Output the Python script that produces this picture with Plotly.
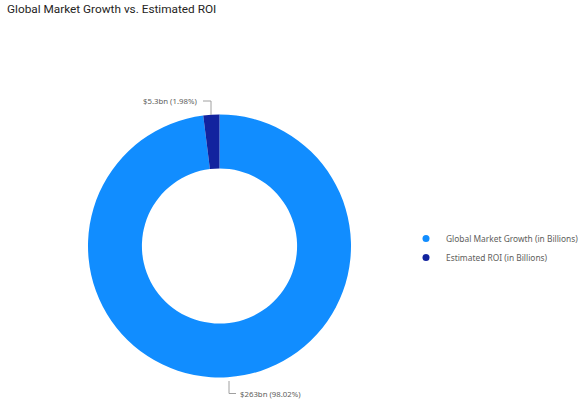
import plotly.graph_objects as go

labels = ["Global Market Growth (in Billions)", "Estimated ROI (in Billions)"]
values = [263, 5.3]
text_labels = ["$263bn (98.02%)", "$5.3bn (1.98%)"]
colors = ["#118DFF", "#12239E"]

W, H = 588, 410


def px(x):
    return x / W


def py(y):
    return 1 - y / H


fig = go.Figure()

fig.add_trace(
    go.Pie(
        labels=labels,
        values=values,
        hole=0.59,
        sort=False,
        direction="clockwise",
        rotation=0,
        marker=dict(colors=colors),
        textinfo="none",
        showlegend=False,
        domain=dict(x=[px(88), px(351)], y=[py(377.5), py(114.5)]),
    )
)

# legend entries with round markers, like the original
for name, c in zip(labels, colors):
    fig.add_trace(
        go.Scatter(
            x=[None], y=[None],
            mode="markers",
            marker=dict(color=c, size=7, symbol="circle"),
            name=name,
        )
    )

fig.update_xaxes(visible=False)
fig.update_yaxes(visible=False)

gray = "#605E5C"

# leader lines
for (x0, y0, x1, y1) in [
    (203, 101, 211, 101), (211, 101, 211, 115),
    (229, 381, 229, 393.5), (229, 393.5, 236, 393.5),
]:
    fig.add_shape(
        type="line", xref="paper", yref="paper",
        x0=px(x0), y0=py(y0), x1=px(x1), y1=py(y1),
        line=dict(color="#A0A0A0", width=1),
    )

fig.add_annotation(
    x=px(199), y=py(101), xref="paper", yref="paper",
    text=text_labels[1], showarrow=False,
    xanchor="right", yanchor="middle",
    font=dict(size=7.8, color=gray, family="Noto Sans"),
)
fig.add_annotation(
    x=px(238), y=py(394), xref="paper", yref="paper",
    text=text_labels[0], showarrow=False,
    xanchor="left", yanchor="middle",
    font=dict(size=7.8, color=gray, family="Noto Sans"),
)

fig.update_layout(
    width=W,
    height=H,
    margin=dict(l=0, r=0, t=0, b=0, autoexpand=False),
    paper_bgcolor="white",
    plot_bgcolor="white",
    title=dict(
        text="Global Market Growth vs. Estimated ROI",
        x=px(7), xanchor="left",
        y=py(9), yanchor="middle",
        font=dict(size=11.8, color="#252423", family="Roboto"),
    ),
    legend=dict(
        x=px(406), y=py(248), xanchor="left", yanchor="middle",
        font=dict(size=8.4, color=gray, family="Noto Sans"),
        itemwidth=30,
        tracegroupgap=0,
        bgcolor="rgba(0,0,0,0)",
    ),
    showlegend=True,
)

fig.write_html(
    "out.html",
    config=dict(displayModeBar=False),
    post_script="document.body.style.margin='0';",
)
